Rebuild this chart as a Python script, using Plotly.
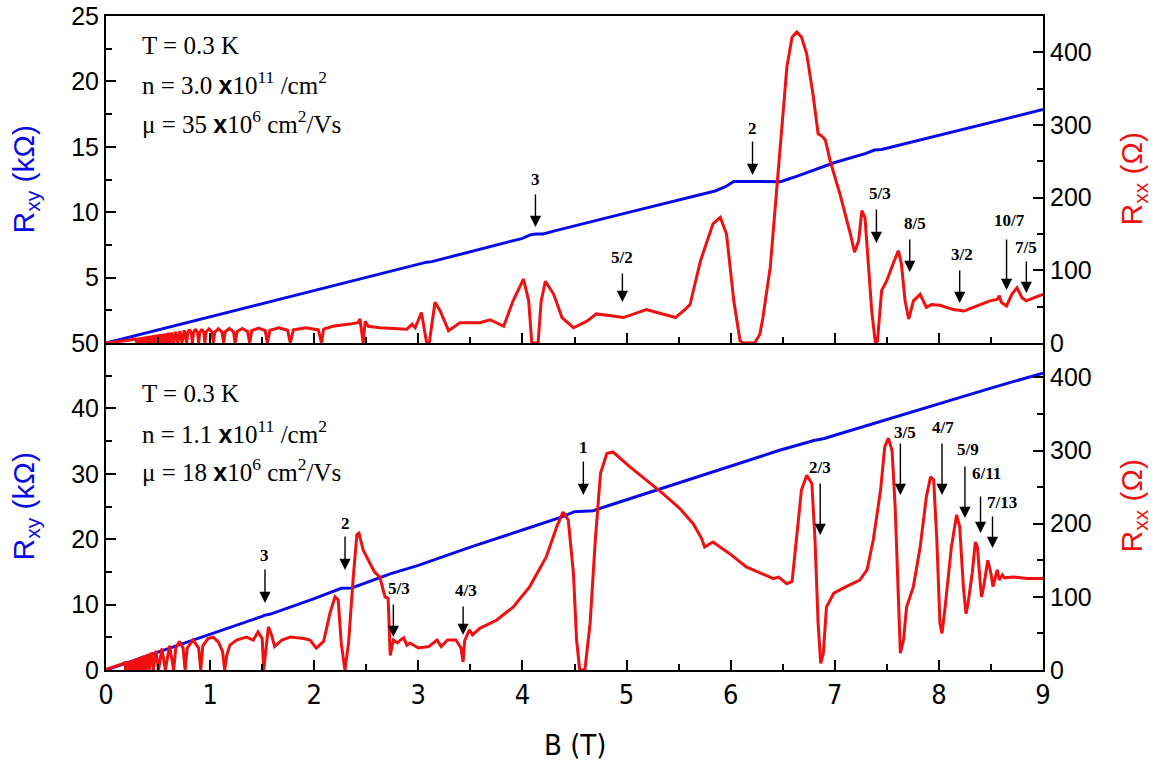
import plotly.graph_objects as go

# ---------------- data ----------------
# Top panel: n = 3.0e11 cm^-2
B_top_xy = [0, 1.0, 2.0, 3.0, 3.08, 3.13, 4.0, 4.08, 4.13, 4.2, 4.3, 5.0, 5.5, 5.85, 5.95, 6.03,
            6.3, 6.48, 6.6, 6.8, 7.0, 7.3, 7.38, 7.45, 7.7, 8.0, 8.5, 9.0]
Rxy_top = [0, 2.0, 4.0, 6.0, 6.18, 6.22, 8.0, 8.28, 8.33, 8.34, 8.55, 9.95, 10.9, 11.62, 11.95, 12.35,
           12.35, 12.33, 12.65, 13.25, 13.8, 14.5, 14.75, 14.8, 15.3, 15.9, 16.9, 17.85]

B_top_xx = [0, 0.1, 0.2, 0.28,
            0.30, 0.31, 0.32, 0.33, 0.34, 0.35, 0.36, 0.37, 0.38, 0.39, 0.40, 0.41, 0.42, 0.43, 0.44,
            0.45, 0.46, 0.47, 0.48, 0.493, 0.505, 0.518, 0.53, 0.543, 0.555, 0.57, 0.585, 0.60,
            0.615, 0.632, 0.65, 0.67, 0.69, 0.71, 0.73, 0.752, 0.775,
            0.785, 0.80, 0.82, 0.83, 0.84, 0.86, 0.88, 0.89, 0.90, 0.92, 0.94, 0.95,
            0.96, 0.99, 1.02, 1.03, 1.045, 1.08, 1.115, 1.13, 1.145, 1.185, 1.225, 1.24,
            1.26, 1.31, 1.36, 1.38, 1.40, 1.465, 1.53, 1.55, 1.575, 1.66, 1.745, 1.77,
            1.80, 1.92, 2.04, 2.07,
            2.09, 2.18, 2.34, 2.42, 2.44, 2.47, 2.49, 2.52, 2.63, 2.80, 2.89, 2.94, 2.97, 3.03,
            3.08, 3.105, 3.16, 3.21, 3.29, 3.40, 3.59, 3.69, 3.82, 3.91, 4.01, 4.06, 4.09, 4.15,
            4.18, 4.22, 4.30, 4.38, 4.49, 4.62, 4.71, 4.87, 4.97, 5.19, 5.35, 5.47, 5.56, 5.61,
            5.71, 5.83, 5.90, 5.96, 6.03, 6.09, 6.12, 6.23, 6.28, 6.31, 6.38, 6.47, 6.54, 6.59,
            6.635, 6.68, 6.73, 6.79, 6.84, 6.875, 6.91, 6.955, 7.05, 7.15, 7.19, 7.23, 7.26, 7.29,
            7.32, 7.355, 7.39, 7.41, 7.45, 7.50, 7.56, 7.61, 7.64, 7.675, 7.71, 7.755, 7.82, 7.88,
            7.93, 8.01, 8.14, 8.24, 8.33, 8.49, 8.56, 8.58, 8.60, 8.65, 8.70, 8.75, 8.80, 8.84,
            8.91, 9.0]
Rxx_top = [0, 1.5, 3.5, 5.5,
           0, 7, 0, 7.5, 0, 8, 0, 8.5, 0, 9, 0, 9.5, 0, 10, 0,
           10.5, 0, 11, 0, 11.5, 0, 12, 0, 12.5, 0, 13, 0, 14,
           0, 14.5, 0, 15.5, 0, 16.5, 0, 17.5, 0,
           14, 18.5, 14, 0, 14, 19, 14, 0, 14, 19, 14, 0,
           15, 19.5, 15, 0, 15, 19.5, 15, 0, 15.5, 20, 15.5, 0,
           16, 20, 16, 0, 17, 20.5, 17, 0, 17.5, 21, 17.5, 0,
           18, 21, 18, 0,
           19, 23, 26, 28, 33, 0, 30, 23, 21, 20, 19, 26, 21, 42,
           0, 0, 56, 44, 17, 28, 28, 32, 23, 58, 88, 58, 0, 0,
           58, 85, 67, 35, 21, 30, 40, 37, 35, 46, 40, 35, 46, 53,
           113, 164, 173, 150, 58, 3, 0, 0, 12, 35, 104, 265, 380, 421,
           428, 421, 398, 343, 288, 285, 279, 251, 205, 150, 125, 141, 182, 173,
           113, 44, 0, 3, 72, 86, 109, 127, 109, 58, 33, 58, 67, 49,
           53, 52, 46, 44, 49, 58, 60, 65, 56, 51, 67, 76, 62, 58,
           62, 67]

# Bottom panel: n = 1.1e11 cm^-2
B_bot_xy = [0, 0.5, 1.0, 1.5, 1.52, 1.58, 2.0, 2.22, 2.26, 2.36, 2.45, 2.73, 3.0, 3.5, 4.0, 4.38,
            4.5, 4.68, 4.8, 5.19, 5.5, 6.0, 6.47, 6.8, 6.9, 7.0, 7.5, 7.6, 8.0, 8.5, 9.0]
Rxy_bot = [0, 2.7, 5.4, 8.2, 8.35, 8.55, 10.9, 12.2, 12.5, 12.55, 13.1, 14.7, 16.0, 18.8, 21.4, 23.4,
           24.2, 24.35, 25.0, 27.0, 28.6, 31.2, 33.6, 35.1, 35.4, 35.9, 38.3, 38.8, 40.8, 43.1, 45.4]

B_bot_xx = [0, 0.05, 0.10, 0.15, 0.18,
            0.19, 0.194, 0.198, 0.203, 0.207, 0.212, 0.217, 0.222, 0.228, 0.234, 0.24, 0.246,
            0.253, 0.26, 0.268, 0.276, 0.284, 0.293, 0.303, 0.314, 0.325, 0.337, 0.35, 0.365,
            0.38, 0.397, 0.414, 0.434, 0.455, 0.48, 0.505, 0.537, 0.57, 0.61, 0.65, 0.67, 0.705,
            0.74, 0.76, 0.78, 0.835, 0.89, 0.91, 0.93, 0.98, 1.03, 1.08, 1.12, 1.14,
            1.16, 1.19, 1.255, 1.35, 1.415, 1.46, 1.50, 1.515, 1.53, 1.56, 1.59, 1.62, 1.69, 1.77,
            1.90, 1.96, 2.02, 2.09, 2.15, 2.20, 2.23, 2.26, 2.295, 2.33, 2.375, 2.41, 2.43, 2.47,
            2.535, 2.58, 2.63, 2.68, 2.71, 2.73, 2.76, 2.80, 2.83, 2.86, 2.89, 2.92, 3.0, 3.1,
            3.18, 3.22, 3.28, 3.36, 3.41, 3.43, 3.445, 3.46, 3.49, 3.52, 3.59, 3.75, 3.91, 4.07,
            4.23, 4.33, 4.39, 4.44, 4.49, 4.52, 4.55, 4.60, 4.65, 4.70, 4.75, 4.81, 4.87, 5.03,
            5.19, 5.35, 5.51, 5.64, 5.72, 5.75, 5.83, 5.99, 6.15, 6.28, 6.41, 6.46, 6.54, 6.59,
            6.63, 6.68, 6.73, 6.78, 6.81, 6.84, 6.865, 6.89, 6.92, 6.99, 7.11, 7.24, 7.31, 7.37,
            7.44, 7.48, 7.515, 7.55, 7.58, 7.61, 7.63, 7.66, 7.69, 7.755, 7.82, 7.88, 7.92, 7.95,
            7.98, 8.01, 8.03, 8.06, 8.12, 8.17, 8.20, 8.235, 8.26, 8.28, 8.32, 8.35, 8.37, 8.40,
            8.41, 8.43, 8.47, 8.50, 8.52, 8.56, 8.58, 8.61, 8.63, 8.72, 8.85, 9.0]
Rxx_bot = [1, 3, 5, 8, 10,
           0, 10.5, 0, 11, 0, 11.5, 0, 12, 0, 12.5, 0, 13.5,
           0, 14, 0, 15, 0, 16, 0, 17, 0, 18.5, 0, 20,
           0, 22, 0, 24, 0, 26.5, 0, 29.5, 0, 33, 0, 30, 39,
           30, 0, 30, 41, 30, 0, 33, 43, 45, 38, 25, 0,
           20, 34, 41, 45, 41, 52, 43, 0, 20, 59, 48, 32, 41, 45,
           43, 41, 30, 39, 77, 100, 96, 36, 0, 37, 127, 185, 187, 164,
           146, 134, 127, 100, 98, 20, 41, 37, 41, 44, 34, 37, 30, 32,
           41, 32, 41, 41, 30, 11, 40, 45, 55, 48, 57, 68, 86, 114,
           155, 196, 216, 205, 132, 41, 0, 0, 64, 178, 269, 296, 298, 278,
           260, 241, 221, 200, 180, 168, 175, 159, 141, 133, 125, 127, 118, 121,
           178, 246, 266, 255, 178, 64, 9, 23, 86, 105, 114, 123, 137, 178,
           246, 305, 317, 300, 223, 86, 23, 41, 86, 114, 168, 237, 264, 260,
           178, 64, 50, 86, 168, 212, 196, 114, 77, 91, 132, 175, 168, 114,
           100, 114, 150, 132, 114, 137, 123, 130, 126, 127, 125, 125]

# filling-factor labels: (label, arrow B, label B)
top_marks = ["3", "2", "5/2", "5/3", "8/5", "3/2", "10/7", "7/5"]
top_arrow_B = [4.125, 6.21, 4.96, 7.40, 7.72, 8.20, 8.65, 8.84]
top_label_B = [4.125, 6.21, 4.96, 7.435, 7.77, 8.22, 8.68, 8.84]
bot_marks = ["3", "2", "5/3", "4/3", "1", "2/3", "3/5", "4/7", "5/9", "6/11", "7/13"]
bot_arrow_B = [1.527, 2.296, 2.76, 3.43, 4.585, 6.86, 7.63, 8.03, 8.25, 8.40, 8.515]
bot_label_B = [1.527, 2.296, 2.81, 3.46, 4.585, 6.86, 7.67, 8.04, 8.28, 8.46, 8.61]

XS = '<span style="font-family:Liberation Sans, Arial, sans-serif"><b>x</b></span>'
top_text = ["T = 0.3 K", "n = 3.0 " + XS + "10<sup>11</sup> /cm<sup>2</sup>",
            "μ = 35 " + XS + "10<sup>6</sup> cm<sup>2</sup>/Vs"]
bot_text = ["T = 0.3 K", "n = 1.1 " + XS + "10<sup>11</sup> /cm<sup>2</sup>",
            "μ = 18 " + XS + "10<sup>6</sup> cm<sup>2</sup>/Vs"]

# ---------------- layout geometry (page pixels; body margin removed) ----------------
W, H = 1162, 767
P_LEFT, P_RIGHT, P_TOP, P_BOTTOM = 106, 1043, 16, 670   # plot area on the page
ML, MR, MT, MB = P_LEFT, W - P_RIGHT, P_TOP, H - P_BOTTOM
PLOT_H = P_BOTTOM - P_TOP
PLOT_W = P_RIGHT - P_LEFT

def py(px):  # page pixel row -> paper y
    return (P_BOTTOM - px) / PLOT_H

def pxx(px):  # page pixel column -> paper x
    return (px - P_LEFT) / PLOT_W

# (label_y, arrow_top, arrow_tip) in page pixels
top_pos = [(180, 193, 227), (128, 140, 175), (257, 272, 302), (193, 208, 243),
           (223, 238, 272), (255, 269, 303), (220, 238, 290), (248, 260, 293)]
bot_pos = [(555, 568, 603), (523, 535, 570), (588, 603, 637), (590, 605, 635),
           (447, 460, 495), (467, 482, 535), (432, 442, 495), (427, 442, 495),
           (450, 465, 518), (473, 495, 533), (502, 515, 548)]

BLUE = "#0a0ae6"
RED = "#f01010"
TICKFONT = dict(family="Liberation Sans, Arial, sans-serif", size=25, color="black")
XTICKFONT = dict(family="Liberation Sans Narrow, DejaVu Sans Condensed, Arial Narrow, sans-serif",
                 size=27, color="black")

fig = go.Figure()
fig.add_trace(go.Scatter(x=B_top_xy, y=Rxy_top, mode="lines", line=dict(color=BLUE, width=3),
                         xaxis="x2", yaxis="y3", showlegend=False))
fig.add_trace(go.Scatter(x=B_bot_xy, y=Rxy_bot, mode="lines", line=dict(color=BLUE, width=3),
                         xaxis="x", yaxis="y", showlegend=False))
fig.add_trace(go.Scatter(x=B_top_xx, y=Rxx_top, mode="lines", line=dict(color=RED, width=3),
                         xaxis="x2", yaxis="y4", showlegend=False))
fig.add_trace(go.Scatter(x=B_bot_xx, y=Rxx_bot, mode="lines", line=dict(color=RED, width=3),
                         xaxis="x", yaxis="y2", showlegend=False))

axcommon = dict(showline=True, linecolor="black", linewidth=2, ticks="inside", tickcolor="black",
                tickwidth=2, showgrid=False, zeroline=False, automargin=False,
                ticklabeloverflow="allow")

annotations = []
for marks, arrB, labB, pos in [(top_marks, top_arrow_B, top_label_B, top_pos),
                               (bot_marks, bot_arrow_B, bot_label_B, bot_pos)]:
    for m, ab, lb, (ly, atop, atip) in zip(marks, arrB, labB, pos):
        annotations.append(dict(x=ab, y=py(atip), xref="x", yref="paper", text="",
                                showarrow=True, ax=0, ay=-(atip - atop), axref="pixel", ayref="pixel",
                                arrowhead=2, arrowsize=1.6, arrowwidth=1.4, arrowcolor="black"))
        annotations.append(dict(x=lb, y=py(ly), xref="x", yref="paper", text="<b>%s</b>" % m,
                                showarrow=False, xanchor="center", yanchor="middle",
                                font=dict(family="Liberation Serif, Times New Roman, serif",
                                          size=17, color="black")))

for lines, ys in [(top_text, [46, 83, 122]), (bot_text, [393, 432, 470])]:
    for t, yy in zip(lines, ys):
        annotations.append(dict(x=pxx(140), y=py(yy), xref="paper", yref="paper", text=t,
                                showarrow=False, xanchor="left", yanchor="middle",
                                font=dict(family="Liberation Serif, Times New Roman, serif",
                                          size=25, color="black")))

TITLEFONT = dict(family="Liberation Sans, Arial, sans-serif", size=30)
for yy in [(16 + 343) / 2, (343 + 670) / 2]:
    annotations.append(dict(x=pxx(25), y=py(yy), xref="paper", yref="paper",
                            text="R<sub>xy</sub> (kΩ)", textangle=-90, showarrow=False,
                            xanchor="center", yanchor="middle", font=dict(TITLEFONT, color=BLUE)))
    annotations.append(dict(x=pxx(1133), y=py(yy), xref="paper", yref="paper",
                            text="R<sub>xx</sub> (Ω)", textangle=-90, showarrow=False,
                            xanchor="center", yanchor="middle", font=dict(TITLEFONT, color=RED)))
annotations.append(dict(x=0.5, y=py(745), xref="paper", yref="paper", text="B (T)",
                        showarrow=False, xanchor="center", yanchor="middle",
                        font=dict(family="Liberation Sans Narrow, DejaVu Sans Condensed, sans-serif",
                                  size=29, color="black")))

fig.update_layout(
    width=W, height=H, margin=dict(l=ML, r=MR, t=MT, b=MB, autoexpand=False),
    paper_bgcolor="white", plot_bgcolor="white",
    xaxis=dict(axcommon, domain=[0, 1], anchor="y", range=[0, 9], dtick=1, ticklen=10,
               minor=dict(ticks="inside", dtick=0.5, ticklen=6, tickwidth=2, tickcolor="black"),
               tickfont=XTICKFONT),
    xaxis2=dict(axcommon, domain=[0, 1], anchor="y3", range=[0, 9], dtick=1, ticklen=10,
                matches="x", showticklabels=False, mirror=True,
                minor=dict(ticks="inside", dtick=0.5, ticklen=6, tickwidth=2, tickcolor="black")),
    yaxis=dict(axcommon, domain=[0, 0.5], anchor="x", range=[0, 50], tickvals=[0, 10, 20, 30, 40, 50],
               ticklen=10, tickfont=TICKFONT,
               minor=dict(ticks="inside", tickvals=[5, 15, 25, 35, 45], ticklen=6, tickwidth=2,
                          tickcolor="black")),
    yaxis2=dict(axcommon, overlaying="y", side="right", anchor="x", range=[0, 447],
                tickvals=[0, 100, 200, 300, 400], ticklen=10, tickfont=TICKFONT,
                minor=dict(ticks="inside", tickvals=[50, 150, 250, 350], ticklen=6, tickwidth=2,
                           tickcolor="black")),
    yaxis3=dict(axcommon, domain=[0.5, 1], anchor="x2", range=[0, 25], tickvals=[5, 10, 15, 20, 25],
                ticklen=10, tickfont=TICKFONT,
                minor=dict(ticks="inside", tickvals=[2.5, 7.5, 12.5, 17.5, 22.5], ticklen=6,
                           tickwidth=2, tickcolor="black")),
    yaxis4=dict(axcommon, overlaying="y3", side="right", anchor="x2", range=[0, 450],
                tickvals=[0, 100, 200, 300, 400], ticklen=10, tickfont=TICKFONT,
                minor=dict(ticks="inside", tickvals=[50, 150, 250, 350], ticklen=6, tickwidth=2,
                           tickcolor="black")),
    annotations=annotations,
)

fig.write_html("out.html", config={"displayModeBar": False},
               post_script="document.body.style.margin='0';document.body.style.overflow='hidden';")
